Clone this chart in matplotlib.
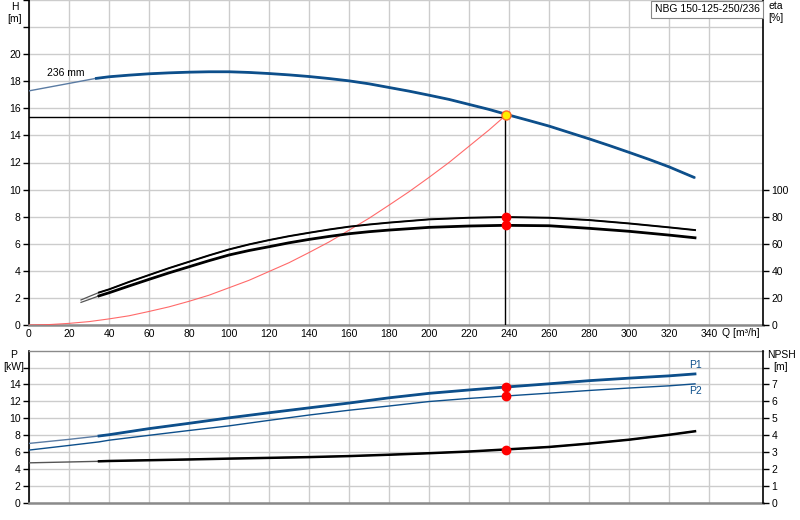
import matplotlib
matplotlib.use("Agg")
import matplotlib.pyplot as plt

# ---------------- data ----------------
q_h = [0, 20, 33, 40, 50, 60, 70, 80, 90, 100, 110, 120, 130, 140, 150, 160, 170, 180,
       190, 200, 210, 220, 230, 240, 250, 260, 270, 280, 290, 300, 310, 320, 333]
h_236 = [17.29, 17.84, 18.2, 18.33, 18.45, 18.55, 18.62, 18.67, 18.7, 18.7, 18.65, 18.57,
         18.47, 18.35, 18.2, 18.03, 17.81, 17.54, 17.27, 16.97, 16.66, 16.29, 15.92, 15.5,
         15.1, 14.69, 14.22, 13.75, 13.26, 12.75, 12.23, 11.68, 10.87]

q_eta = [26, 30, 35, 40, 50, 60, 70, 80, 90, 100, 110, 120, 130, 140, 150, 160, 170, 180,
         200, 220, 238, 260, 280, 300, 320, 333]
eta_p = [18.5, 21.0, 24.0, 26.3, 31.8, 36.9, 42.0, 46.7, 51.4, 55.8, 59.5, 62.7, 65.6, 68.1,
         70.5, 72.6, 74.2, 75.6, 78.0, 79.2, 79.7, 79.2, 77.5, 75.0, 72.1, 70.1]
eta_tot = [16.7, 18.8, 21.5, 23.8, 28.8, 33.7, 38.5, 43.0, 47.5, 51.7, 55.0, 57.8, 60.7, 63.2,
           65.4, 67.4, 68.9, 70.1, 72.1, 73.1, 73.6, 73.3, 71.4, 69.2, 66.4, 64.4]

q_sys = [0, 10, 20, 30, 40, 50, 60, 70, 80, 90, 100, 110, 120, 130, 140, 150, 160, 170,
         180, 190, 200, 210, 220, 230, 238.5]
h_sys = [0, 0.03, 0.12, 0.25, 0.45, 0.68, 1.0, 1.34, 1.75, 2.2, 2.75, 3.3, 3.95, 4.6, 5.35,
         6.13, 7.0, 7.88, 8.85, 9.84, 10.9, 12.0, 13.2, 14.4, 15.5]

q_p = [0, 20, 35, 40, 60, 80, 100, 120, 140, 160, 180, 200, 220, 238, 260, 280, 300, 320, 333]
p1 = [7.02, 7.5, 7.9, 8.05, 8.77, 9.4, 10.05, 10.65, 11.23, 11.8, 12.42, 12.95, 13.35, 13.69,
      14.08, 14.45, 14.75, 15.02, 15.25]
p2 = [6.23, 6.78, 7.2, 7.4, 7.98, 8.55, 9.1, 9.75, 10.38, 10.95, 11.45, 11.98, 12.35, 12.63,
      12.97, 13.29, 13.58, 13.84, 14.07]

q_npsh = [0, 35, 40, 80, 100, 140, 160, 180, 200, 220, 238, 260, 280, 300, 320, 333]
npsh = [2.36, 2.45, 2.47, 2.56, 2.61, 2.7, 2.76, 2.84, 2.93, 3.03, 3.15, 3.3, 3.5, 3.73, 4.02, 4.23]

duty_q = 237.8
duty_h = 15.38
mark_q = 238.6
mark_h = 15.52
duty_eta_p = 79.7
duty_eta_tot = 73.6
duty_p1 = 13.69
duty_p2 = 12.63
duty_npsh = 3.15

x_ticks = list(range(0, 341, 20))
title_text = "NBG 150-125-250/236"
impeller_label = "236 mm"

# ---------------- styling ----------------
BLUE = "#0d4f8b"
GRID = "#cccccc"
FS = 7.5
plt.rcParams["font.family"] = ["Liberation Sans", "DejaVu Sans"]
plt.rcParams["font.size"] = FS

W, H = 800, 520
fig = plt.figure(figsize=(8, 5.2), dpi=100)

left_px, right_px = 29, 763
ax1 = fig.add_axes([left_px / W, (H - 325) / H, (right_px - left_px) / W, 325 / H])
ax2 = fig.add_axes([left_px / W, (H - 502.7) / H, (right_px - left_px) / W, (502.7 - 350.7) / H])


def style(ax):
    ax.set_xlim(0, 367)
    ax.set_xticks(x_ticks)
    ax.grid(True, color=GRID, linewidth=1.0)
    ax.set_axisbelow(True)
    ax.spines["left"].set_color("black")
    ax.spines["left"].set_linewidth(1.2)
    ax.spines["right"].set_visible(False)
    ax.spines["bottom"].set_color("#8a8a8a")
    ax.spines["bottom"].set_linewidth(1.8)
    ax.spines["top"].set_color("#8a8a8a")
    ax.spines["top"].set_linewidth(1.0)
    ax.tick_params(axis="x", length=0, pad=3, labelsize=FS)
    ax.tick_params(axis="y", length=4, width=1, pad=2, labelsize=FS, direction="out")


def style_right(ax):
    for s in ["left", "top", "bottom"]:
        ax.spines[s].set_visible(False)
    ax.spines["right"].set_color("black")
    ax.spines["right"].set_linewidth(1.2)
    ax.tick_params(axis="y", length=4, width=1, pad=2, labelsize=FS, direction="out")


# ---------- top panel ----------
style(ax1)
ax1.set_ylim(0, 24)
ax1.set_yticks(range(0, 25, 2))
ax1.set_yticklabels([str(v) if v <= 20 else "" for v in range(0, 25, 2)])
ax1.spines["top"].set_visible(False)
ax1.set_xticklabels([str(v) for v in x_ticks])

ax1b = ax1.twinx()
ax1b.set_ylim(0, 240)
ax1b.set_yticks(range(0, 101, 20))
style_right(ax1b)

# system curve
ax1.plot(q_sys, h_sys, color="#ff5a5a", lw=0.8, alpha=0.9, zorder=3)

# head curve: thin full range, thick in the operating range
ax1.plot(q_h, h_236, color="#5a7ba3", lw=1.0, zorder=4)
i0 = q_h.index(33)
ax1.plot(q_h[i0:], h_236[i0:], color=BLUE, lw=2.0, zorder=5, solid_capstyle="butt")

# efficiency curves
ax1b.plot(q_eta, eta_p, color="#555555", lw=0.9, zorder=4)
ax1b.plot(q_eta, eta_tot, color="#555555", lw=0.9, zorder=4)
j0 = q_eta.index(35)
ax1b.plot(q_eta[j0:], eta_p[j0:], color="black", lw=1.4, zorder=5)
ax1b.plot(q_eta[j0:], eta_tot[j0:], color="black", lw=2.0, zorder=5)

# duty point
ax1.plot([0, duty_q], [duty_h, duty_h], color="black", lw=1.0, zorder=6)
ax1.plot([duty_q, duty_q], [0, duty_h], color="black", lw=1.0, zorder=6)
ax1.plot([mark_q], [mark_h], marker="o", ms=6.5, mfc="#ffee00", mec="#ff6a2a", mew=1.0, zorder=8)
ax1b.plot([mark_q, mark_q], [duty_eta_p, duty_eta_tot], linestyle="none", marker="o",
          ms=6, color="#ff0000", zorder=8)

ax1.text(9, 18.6, impeller_label, fontsize=FS, ha="left", va="center")
ax1.text(346.5, -0.25, "Q [m³/h]", fontsize=FS, ha="left", va="top")

fig.text(707 / W, 1 - 9.5 / H, title_text, fontsize=FS, ha="center", va="center",
         bbox=dict(boxstyle="square,pad=0.35", fc="white", ec="#888888", lw=0.8), zorder=10)

fig.text(15 / W, 1 - 13 / H, "H\n[m]", fontsize=FS, ha="center", va="center", linespacing=1.3)
fig.text(776 / W, 1 - 12 / H, "eta\n[%]", fontsize=FS, ha="center", va="center", linespacing=1.3)

# ---------- bottom panel ----------
style(ax2)
ax2.set_ylim(0, 18)
ax2.set_yticks(range(0, 17, 2))
ax2.set_yticklabels([str(v) if v <= 14 else "" for v in range(0, 17, 2)])
ax2.set_xticklabels([])

ax2b = ax2.twinx()
ax2b.set_ylim(0, 9)
ax2b.set_yticks(range(0, 9))
ax2b.set_yticklabels([str(v) if v <= 7 else "" for v in range(0, 9)])
style_right(ax2b)

k0 = q_p.index(35)
ax2.plot(q_p, p1, color="#5a7ba3", lw=1.0, zorder=4)
ax2.plot(q_p[k0:], p1[k0:], color=BLUE, lw=2.0, zorder=5)
ax2.plot(q_p, p2, color=BLUE, lw=1.0, zorder=5)
n0 = q_npsh.index(35)
ax2b.plot(q_npsh, npsh, color="#555555", lw=1.0, zorder=4)
ax2b.plot(q_npsh[n0:], npsh[n0:], color="black", lw=1.8, zorder=5)

ax2.plot([mark_q, mark_q], [duty_p1, duty_p2], linestyle="none", marker="o", ms=6,
         color="#ff0000", zorder=8)
ax2b.plot([mark_q], [duty_npsh], marker="o", ms=6, color="#ff0000", zorder=8)

ax2.text(q_p[-1], p1[-1] + 0.5, "P1", color=BLUE, fontsize=FS, ha="center", va="bottom")
ax2.text(q_p[-1], p2[-1] - 0.3, "P2", color=BLUE, fontsize=FS, ha="center", va="top")

fig.text(14 / W, 1 - 361 / H, "P\n[kW]", fontsize=FS, ha="center", va="center", linespacing=1.3)
fig.text(781 / W, 1 - 361 / H, "NPSH\n[m]", fontsize=FS, ha="center", va="center", linespacing=1.3)

fig.savefig("out.png", dpi=100)
